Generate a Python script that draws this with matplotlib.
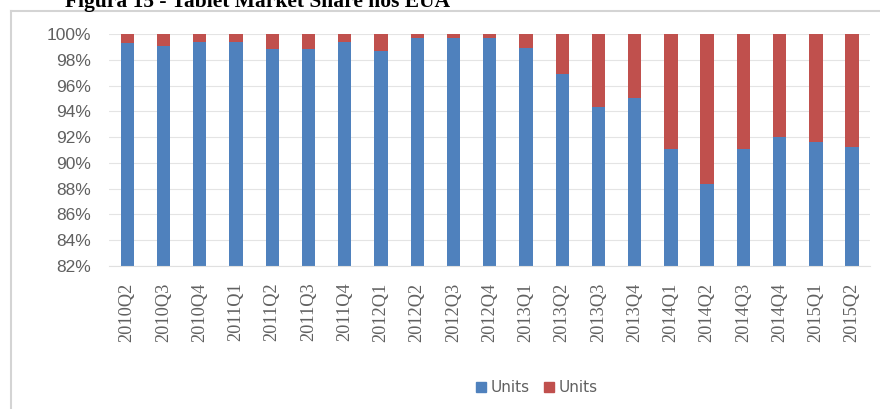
import matplotlib.pyplot as plt
from matplotlib.lines import Line2D
from matplotlib.patches import Patch

# Quarterly tablet unit share (%), US
quarters = ["2010Q2", "2010Q3", "2010Q4", "2011Q1", "2011Q2", "2011Q3", "2011Q4",
            "2012Q1", "2012Q2", "2012Q3", "2012Q4", "2013Q1", "2013Q2", "2013Q3",
            "2013Q4", "2014Q1", "2014Q2", "2014Q3", "2014Q4", "2015Q1", "2015Q2"]
share_a = [99.3, 99.1, 99.4, 99.4, 98.8, 98.8, 99.4, 98.7, 99.7, 99.7, 99.7,
           98.9, 96.9, 94.3, 95.0, 91.1, 88.4, 91.1, 92.0, 91.6, 91.2]
share_b = [100 - v for v in share_a]

blue = "#4F81BD"
red = "#C0504D"
grey_text = "#606060"

fig = plt.figure(figsize=(8.8, 4.09), dpi=100)
ax = fig.add_axes([0.124, 0.3496, 0.865, 0.5673])

x = range(len(quarters))
ax.bar(x, share_a, width=0.37, color=blue, zorder=2)
ax.bar(x, share_b, width=0.37, bottom=share_a, color=red, zorder=2)

ax.set_ylim(82, 100)
ax.set_xlim(-0.5, len(quarters) - 0.5)
ax.set_yticks(range(82, 101, 2))
ax.set_yticklabels([f"{v}%" for v in range(82, 101, 2)],
                   fontsize=12.5, color=grey_text, family="Liberation Sans")
ax.set_xticks(list(x))
ax.set_xticklabels(quarters, rotation=90, fontsize=13.2, color=grey_text,
                   family="Liberation Serif")
ax.tick_params(axis="y", length=0, pad=13)
ax.tick_params(axis="x", length=0, pad=12)

ax.yaxis.grid(True, color="#E4E4E4", linewidth=0.8, zorder=0)
for side in ["top", "right", "left"]:
    ax.spines[side].set_visible(False)
ax.spines["bottom"].set_color("#E0E0E0")

# outer chart frame (left and top edges)
fig.add_artist(Line2D([0.0125, 0.0125], [0, 0.973], color="#D4D4D4", lw=1.5,
                      transform=fig.transFigure))
fig.add_artist(Line2D([0.0125, 1.0], [0.973, 0.973], color="#D4D4D4", lw=1.5,
                      transform=fig.transFigure))

fig.text(0.074, 0.982, "Figura 15 - Tablet Market Share nos EUA",
         fontsize=15.5, fontweight="bold", family="Liberation Serif",
         va="baseline", ha="left")

handles = [Patch(color=blue, label="Units"), Patch(color=red, label="Units")]
fig.legend(handles=handles, loc="center", bbox_to_anchor=(0.61, 0.052), ncol=2,
           frameon=False, fontsize=11, handlelength=0.7, handleheight=0.7,
           handletextpad=0.3, columnspacing=0.9, labelcolor=grey_text)

fig.savefig("out.png", dpi=100)
